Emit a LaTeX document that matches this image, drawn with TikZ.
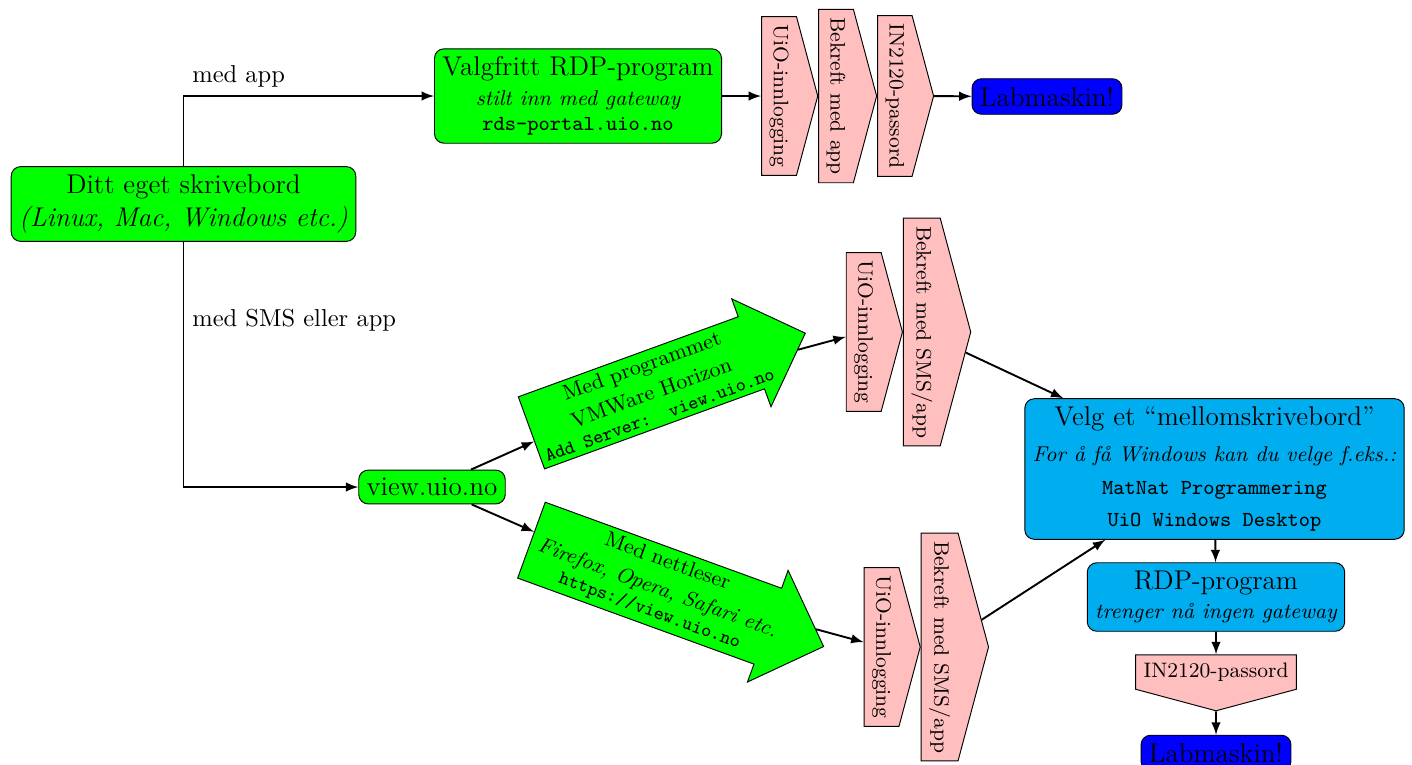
\documentclass[tikz,border=0pt]{standalone}
\usepackage{fontspec}
\usepackage{tikz}
\usetikzlibrary{shapes.arrows,shapes.symbols,positioning}

\definecolor{boxgreen}{RGB}{0,255,0}
\definecolor{boxblue}{RGB}{0,0,255}
\definecolor{boxcyan}{RGB}{0,174,239}
\definecolor{steppink}{RGB}{255,191,191}

\newcommand{\mainsize}{\fontsize{11.4}{14}\selectfont}
\newcommand{\notesize}{\fontsize{9}{11}\selectfont}
\newcommand{\stepsize}{\fontsize{8.8}{11}\selectfont}
\newcommand{\codesmall}{\fontsize{8}{10}\selectfont\ttfamily}
\newcommand{\codenote}{\fontsize{9}{11}\selectfont\ttfamily}
\newcommand{\spacedit}{\itshape\addfontfeatures{LetterSpace=7}}
\newcommand{\downtext}[1]{\rotatebox{-90}{#1}}

\tikzset{
  greenbox/.style={draw, fill=boxgreen, rounded corners, align=center, font=\mainsize},
  cyanbox/.style={draw, fill=boxcyan, rounded corners, align=center, font=\mainsize},
  labbox/.style={draw, fill=boxblue, rounded corners, font=\mainsize},
  stepbox/.style={draw, fill=steppink, signal, signal to=east, signal pointer angle=150, font=\stepsize},
  downstep/.style={draw, fill=steppink, signal, signal to=south, signal pointer angle=150, font=\stepsize},
  webarrow/.style={draw, fill=boxgreen, single arrow, single arrow head extend=8pt, inner sep=2pt, align=center, font=\notesize},
  flow/.style={thick, -latex},
  pathlabel/.style={font=\fontsize{10.3}{12}\selectfont}
}

\begin{document}
\begin{tikzpicture}[x=0.01477cm, y=-0.01477cm]
  \useasboundingbox (0,0) rectangle (1412,764);

  % Own machine and the two entry points
  \node[greenbox] (ditt) at (183.5,204) {Ditt eget skrivebord\\ \textit{(Linux, Mac, Windows etc.)}};
  \node[greenbox] (rdpgw) at (578,96) {Valgfritt RDP-program\\[-1.5pt] {\notesize\itshape stilt inn med gateway}\\[-3.5pt] {\codenote rds-portal.uio.no}};
  \node[greenbox] (view) at (432,487) {view.uio.no};

  % Route through the gateway
  \node[stepbox] (login1) at (779,96) {\downtext{UiO-innlogging}};
  \node[stepbox, right=0pt of login1] (confirm1) {\downtext{Bekreft med app}};
  \node[stepbox, right=0pt of confirm1] (pass1) {\downtext{IN2120-passord}};
  \node[labbox] (lab1) at (1047,96.5) {Labmaskin!};

  % Route through view.uio.no
  \node[webarrow, rotate=20, anchor=tail] (horizon) at (531,433) {Med programmet\\[1pt] VMWare Horizon\\[-1.5pt] {\codesmall Add Server:~~view.uio.no}};
  \node[webarrow, rotate=-20, anchor=tail, inner xsep=3.5pt] (browser) at (531,540) {Med nettleser\\[1pt] \textit{Firefox, Opera, Safari etc.}\\[-1.5pt] {\codesmall https://view.uio.no}};

  \node[stepbox] (login2) at (863.7,332) {\downtext{UiO-innlogging}};
  \node[stepbox, right=0pt of login2] (confirm2) {\downtext{Bekreft med SMS/app}};
  \node[stepbox] (login3) at (881.5,647) {\downtext{UiO-innlogging}};
  \node[stepbox, right=0pt of login3] (confirm3) {\downtext{Bekreft med SMS/app}};

  \node[cyanbox] (choose) at (1214.5,469) {Velg et ``mellomskrivebord''\\[1pt] {\notesize\spacedit For å få Windows kan du velge f.eks.:}\\ {\codenote MatNat Programmering}\\[-0.5pt] {\codenote UiO Windows Desktop}};
  \node[cyanbox] (rdp) at (1216,597) {RDP-program\\[-1.5pt] {\notesize\spacedit trenger nå ingen gateway}};
  \node[downstep] (pass2) at (1216,672) {IN2120-passord};
  \node[labbox] (lab2) at (1216,753) {Labmaskin!};

  % Connectors
  \draw[flow] (ditt.north) |- node[pathlabel, above right, pos=0.5] (applabel) {med app} (rdpgw.west);
  \draw[flow] (ditt.south) |- node[pathlabel, right, pos=0.16] (smslabel) {med SMS eller app} (view.west);
  \draw[flow] (rdpgw) -- (login1);
  \draw[flow] (pass1) -- (lab1);
  \draw[flow] (view) -- (horizon);
  \draw[flow] (view) -- (browser);
  \draw[flow] (horizon) -- (login2);
  \draw[flow] (browser) -- (login3);
  \draw[flow] (confirm2) -- (choose);
  \draw[flow] (confirm3) -- (choose);
  \draw[flow] (choose) -- (rdp);
  \draw[flow] (rdp) -- (pass2);
  \draw[flow] (pass2) -- (lab2);
\end{tikzpicture}
\end{document}
